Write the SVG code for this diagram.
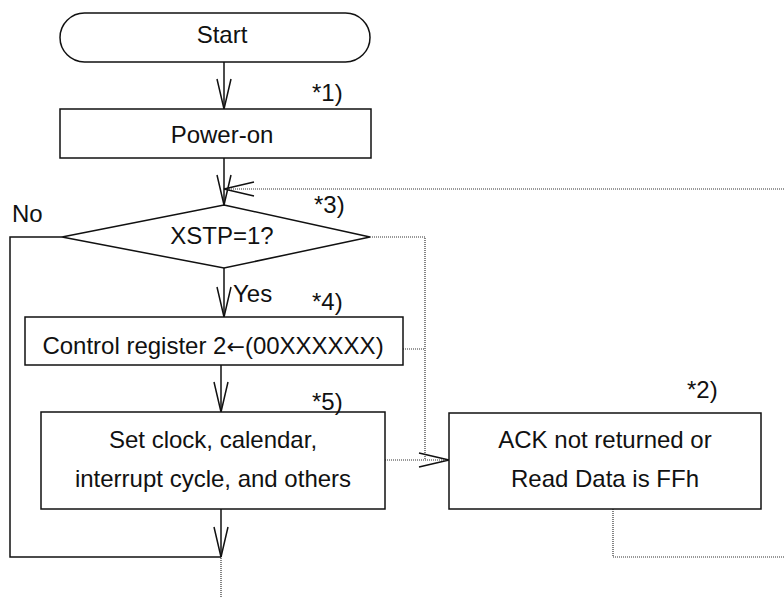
<svg xmlns="http://www.w3.org/2000/svg" width="784" height="597" viewBox="0 0 784 597">
<style>
.box{fill:#fff;stroke:#111;stroke-width:1.5}
.t{font-family:"Liberation Sans",Arial,sans-serif;font-size:24px;fill:#111}
.c{text-anchor:middle}
.ln{fill:none;stroke:#111;stroke-width:1.5}
.dt{fill:none;stroke:#333;stroke-width:1.2;stroke-dasharray:1 1}
.arr{font-family:"DejaVu Sans",sans-serif;font-size:22px}
</style>
<defs>
<marker id="ah" markerUnits="userSpaceOnUse" markerWidth="34" markerHeight="18" refX="30" refY="8" orient="auto" overflow="visible">
<path d="M0,1 L30,8 L0,15" fill="none" stroke="#111" stroke-width="1.5"/>
</marker>
</defs>
<g id="connectors">
<line class="ln" x1="224" y1="62" x2="224" y2="109" marker-end="url(#ah)"/>
<line class="ln" x1="224" y1="158" x2="224" y2="205" marker-end="url(#ah)"/>
<line class="ln" x1="224" y1="268" x2="224" y2="317" marker-end="url(#ah)"/>
<line class="ln" x1="221" y1="365" x2="221" y2="412" marker-end="url(#ah)"/>
<line class="ln" x1="221" y1="509" x2="221" y2="557" marker-end="url(#ah)"/>
<polyline class="ln" points="62,237 10,237 10,557 221,557"/>
<line class="dt" x1="221" y1="558" x2="221" y2="597"/>
<polyline class="dt" points="370,237 425,237 425,460"/>
<line class="dt" x1="403" y1="349" x2="425" y2="349"/>
<line class="dt" x1="385" y1="460" x2="449" y2="460" marker-end="url(#ah)"/>
<polyline class="dt" points="613,509 613,557 784,557"/>
<line class="dt" x1="784" y1="189" x2="224" y2="189" marker-end="url(#ah)"/>
</g>
<g id="start">
<rect class="box" x="60" y="13" width="310" height="49" rx="24.5" ry="24.5"/>
<text class="t c" x="222" y="43">Start</text>
</g>
<g id="power-on">
<rect class="box" x="60" y="109" width="311" height="49"/>
<text class="t c" x="222" y="143">Power-on</text>
<text class="t" x="312" y="101">*1)</text>
</g>
<g id="xstp">
<polygon class="box" points="224,205 370,237 224,268 62,237"/>
<text class="t c" x="222" y="244">XSTP=1?</text>
<text class="t" x="314" y="213">*3)</text>
<text class="t" x="12" y="222">No</text>
<text class="t" x="233" y="302">Yes</text>
</g>
<g id="control-register">
<rect class="box" x="25" y="317" width="378" height="48"/>
<text class="t c" x="213" y="354">Control register 2<tspan class="arr">←</tspan>(00XXXXXX)</text>
<text class="t" x="312" y="310">*4)</text>
</g>
<g id="set-clock">
<rect class="box" x="41" y="412" width="344" height="97"/>
<text class="t c" x="213" y="448">Set clock, calendar,</text>
<text class="t c" x="213" y="487">interrupt cycle, and others</text>
<text class="t" x="312" y="410">*5)</text>
</g>
<g id="ack">
<rect class="box" x="449" y="413" width="312" height="96"/>
<text class="t c" x="605" y="448">ACK not returned or</text>
<text class="t c" x="605" y="487">Read Data is FFh</text>
<text class="t" x="687" y="398">*2)</text>
</g>
</svg>
